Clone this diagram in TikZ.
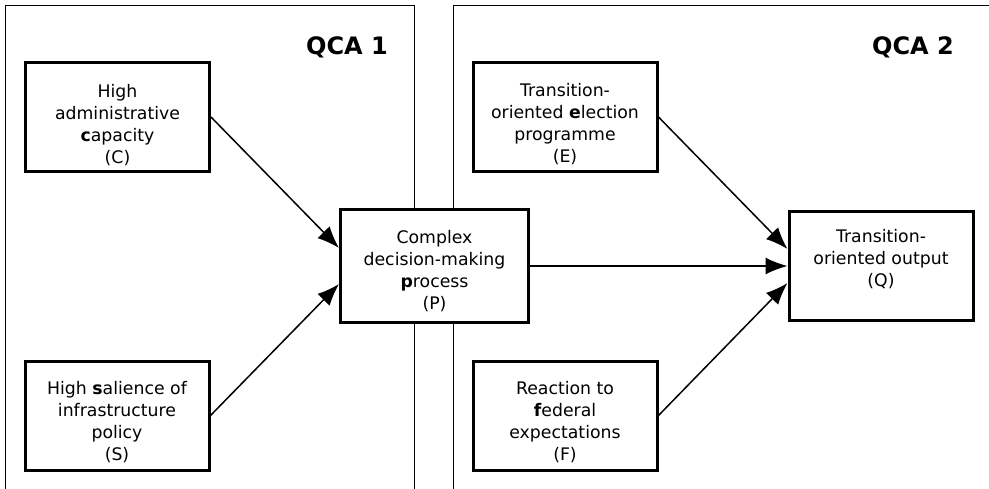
\documentclass[tikz,border=0pt]{standalone}
\usepackage{fontspec}
\setmainfont{DejaVu Sans}
\usetikzlibrary{arrows.meta}
\begin{document}
\begin{tikzpicture}[x=1pt,y=-1pt,
 box/.style={draw,fill=white,line width=3pt,rectangle,inner sep=0pt,minimum width=184pt,minimum height=109pt},
 txt/.style={align=center,font=\fontsize{17.3}{22}\selectfont,inner sep=0pt,anchor=base},
 conn/.style={line width=1.5pt,-{Latex[length=22pt,width=17pt]}},
 frame/.style={line width=1pt},
 title/.style={font=\fontsize{24}{28}\selectfont\bfseries}]
\useasboundingbox (0,0) rectangle (989,488);
\begin{scope}
\clip (0,0) rectangle (989,488);
\draw[frame] (5,500) -- (5,5) -- (414,5) -- (414,500);
\draw[frame] (453,500) -- (453,5) -- (1000,5);
\end{scope}
\node[title] (q1) at (347,47) {QCA 1};
\node[title] (q2) at (913,47) {QCA 2};
\node[box] (C) at (117.5,117) {};
\node[box] (S) at (117,415.5) {};
\node[box,minimum width=188pt,minimum height=113pt] (P) at (434.5,266) {};
\node[box] (E) at (565,117) {};
\node[box] (F) at (565,415.5) {};
\node[box] (Q) at (881,266) {};
\node[txt] (Ct) at ([yshift=-102pt]C.north) {High\\administrative\\\textbf{c}apacity\\(C)};
\node[txt] (St) at ([yshift=-101pt]S.north) {High \textbf{s}alience of\\infrastructure\\policy\\(S)};
\node[txt] (Pt) at ([yshift=-101pt]P.north) {Complex\\decision-making\\\textbf{p}rocess\\(P)};
\node[txt] (Et) at ([yshift=-101pt]E.north) {Transition-\\oriented \textbf{e}lection\\programme\\(E)};
\node[txt] (Ft) at ([yshift=-101pt]F.north) {Reaction to\\\textbf{f}ederal\\expectations\\(F)};
\node[txt] (Qt) at ([yshift=-76pt]Q.north) {Transition-\\oriented output\\(Q)};
\draw[conn] (C.east) -- ([yshift=18pt]P.west);
\draw[conn] (S.east) -- ([yshift=-18pt]P.west);
\draw[conn] (P.east) -- (Q.west);
\draw[conn] (E.east) -- ([yshift=17pt]Q.west);
\draw[conn] (F.east) -- ([yshift=-17pt]Q.west);
\end{tikzpicture}
\end{document}
